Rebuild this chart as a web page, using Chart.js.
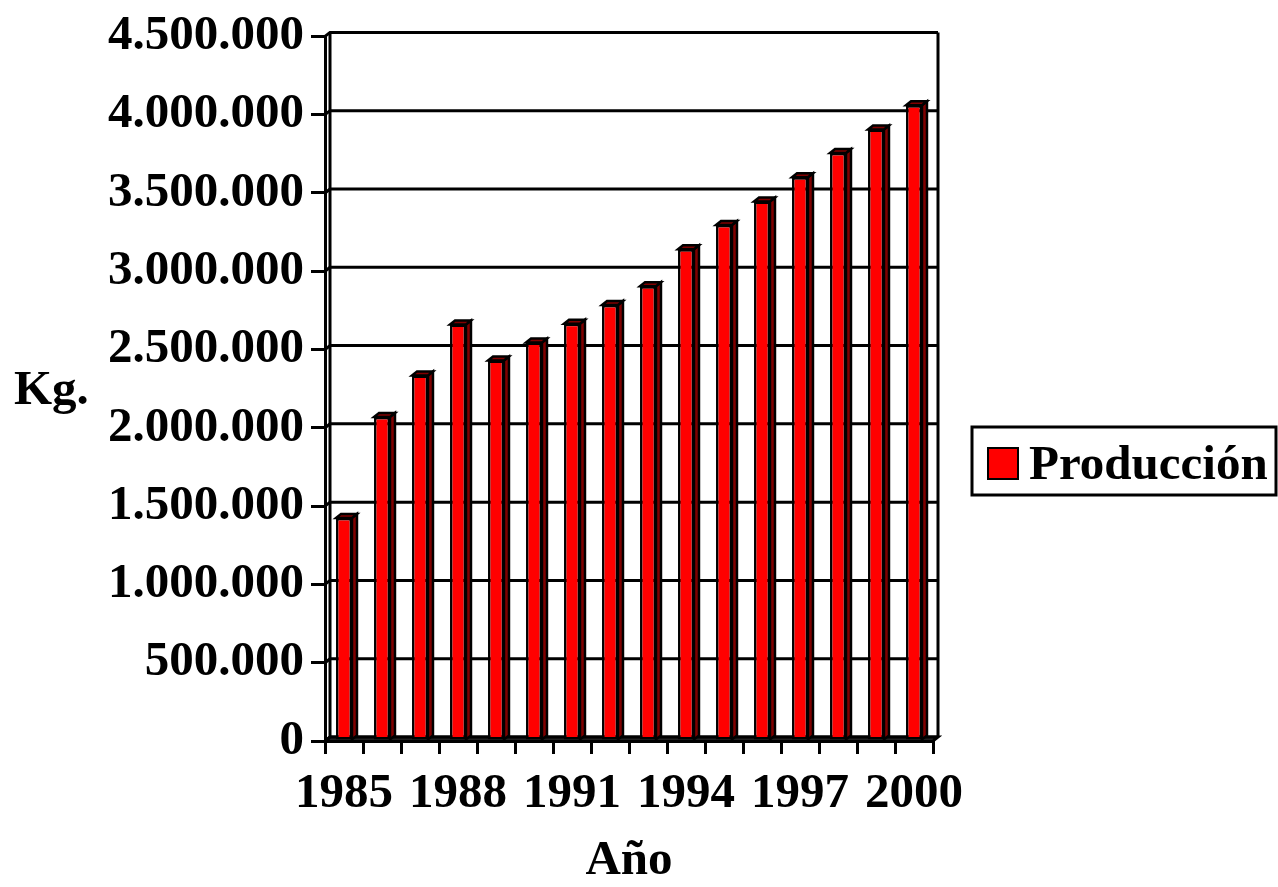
<!DOCTYPE html>
<html>
<head>
<meta charset="utf-8">
<script src="https://cdn.jsdelivr.net/npm/chart.js@4/dist/chart.umd.min.js"></script>
<style>
  body { margin: 0; background: #fff; }
  #wrap { width: 1278px; height: 887px; position: relative; }
</style>
</head>
<body>
<div id="wrap"><canvas id="myChart"></canvas></div>
<script>
// Chart data
const years = ['1985', '1986', '1987', '1988', '1989', '1990', '1991', '1992',
               '1993', '1994', '1995', '1996', '1997', '1998', '1999', '2000'];
const produccion = [1425000, 2070000, 2335000, 2660000, 2430000, 2545000, 2665000, 2785000,
                    2905000, 3140000, 3295000, 3445000, 3600000, 3755000, 3905000, 4060000];
const seriesName = 'Producción';
const yTitle = 'Kg.';
const xTitle = 'Año';

const FONT = '"Liberation Serif", "Times New Roman", serif';
const depthX = 5;
const depthY = 4;

// number format 4.500.000
const fmt = (v) => String(v).replace(/\B(?=(\d{3})+(?!\d))/g, '.');

// 3D look: floor, back wall grid, bar sides, legend and y title
const frame3d = {
    id: 'frame3d',
    beforeDatasetsDraw(chart) {
        const { ctx, chartArea: a, scales: { y } } = chart;
        ctx.save();
        ctx.strokeStyle = '#000';
        ctx.lineWidth = 3;

        // floor
        ctx.fillStyle = '#404040';
        ctx.beginPath();
        ctx.moveTo(a.left, a.bottom);
        ctx.lineTo(a.right, a.bottom);
        ctx.lineTo(a.right + depthX, a.bottom - depthY);
        ctx.lineTo(a.left + depthX, a.bottom - depthY);
        ctx.closePath();
        ctx.fill();
        ctx.stroke();

        // grid lines on the back wall
        y.ticks.forEach(t => {
            const py = y.getPixelForValue(t.value);
            ctx.beginPath();
            ctx.moveTo(a.left, py);
            ctx.lineTo(a.left + depthX, py - depthY);
            ctx.lineTo(a.right + depthX, py - depthY);
            ctx.stroke();
        });

        // back wall edges
        ctx.beginPath();
        ctx.moveTo(a.left + depthX, a.top - depthY);
        ctx.lineTo(a.left + depthX, a.bottom - depthY);
        ctx.moveTo(a.right + depthX, a.top - depthY);
        ctx.lineTo(a.right + depthX, a.bottom - depthY);
        ctx.stroke();
        ctx.restore();
    },
    afterDatasetsDraw(chart) {
        const { ctx } = chart;
        const meta = chart.getDatasetMeta(0);
        ctx.save();
        ctx.strokeStyle = '#000';
        ctx.lineWidth = 2.5;
        ctx.fillStyle = '#800000';
        meta.data.forEach(bar => {
            const p = bar.getProps(['x', 'y', 'width', 'base'], true);
            const l = p.x - p.width / 2;
            const r = p.x + p.width / 2;
            // side
            ctx.beginPath();
            ctx.moveTo(r, p.y);
            ctx.lineTo(r + depthX, p.y - depthY);
            ctx.lineTo(r + depthX, p.base - depthY);
            ctx.lineTo(r, p.base);
            ctx.closePath();
            ctx.fill();
            ctx.stroke();
            // top
            ctx.beginPath();
            ctx.moveTo(l, p.y);
            ctx.lineTo(l + depthX, p.y - depthY);
            ctx.lineTo(r + depthX, p.y - depthY);
            ctx.lineTo(r, p.y);
            ctx.closePath();
            ctx.fill();
            ctx.stroke();
        });
        ctx.restore();
    },
    afterDraw(chart) {
        const { ctx } = chart;
        const ds = chart.data.datasets[0];
        ctx.save();
        ctx.font = 'bold 49px ' + FONT;
        ctx.fillStyle = '#000';
        ctx.textBaseline = 'alphabetic';

        // y title, horizontal
        ctx.fillText(yTitle, 14, 404);

        // legend
        ctx.strokeStyle = '#000';
        ctx.lineWidth = 3;
        ctx.strokeRect(972, 427, 304, 68);
        ctx.fillStyle = ds.backgroundColor;
        ctx.fillRect(988, 448, 30, 31);
        ctx.lineWidth = 2;
        ctx.strokeRect(988, 448, 30, 31);
        ctx.fillStyle = '#000';
        ctx.fillText(ds.label, 1029, 479);
        ctx.restore();
    }
};

const ctx = document.getElementById('myChart').getContext('2d');
let myChart = new Chart(ctx, {
    type: 'bar',
    data: {
        labels: years,
        datasets: [
            {
                label: seriesName,
                data: produccion,
                backgroundColor: '#ff0000',
                borderColor: '#000',
                borderWidth: 2.5,
                borderSkipped: false,
                barPercentage: 0.42,
                categoryPercentage: 1,
            },
        ],
    },
    options: {
        responsive: true,
        maintainAspectRatio: false,
        animation: false,
        layout: { padding: { left: 0, right: 345, top: 35, bottom: 0 } },
        plugins: {
            legend: { display: false },
            tooltip: { enabled: false },
        },
        scales: {
            x: {
                afterFit: (scale) => { scale.height = 146; },
                grid: {
                    drawOnChartArea: false,
                    drawTicks: true,
                    tickLength: 13,
                    color: '#000',
                    lineWidth: 3,
                },
                border: { display: true, color: '#000', width: 3 },
                ticks: {
                    autoSkip: false,
                    maxRotation: 0,
                    padding: 11,
                    color: '#000',
                    font: { family: FONT, size: 49, weight: 'bold' },
                    callback: function (val, i) {
                        return i % 3 === 0 ? this.getLabelForValue(val) : '';
                    },
                },
                title: {
                    display: true,
                    text: xTitle,
                    color: '#000',
                    font: { family: FONT, size: 49, weight: 'bold' },
                    padding: { top: 0, bottom: -4 },
                },
            },
            y: {
                min: 0,
                max: 4500000,
                afterFit: (scale) => { scale.width = 325; },
                grid: {
                    drawOnChartArea: false,
                    drawTicks: true,
                    tickLength: 14,
                    color: '#000',
                    lineWidth: 3,
                },
                border: { display: true, color: '#000', width: 3 },
                ticks: {
                    stepSize: 500000,
                    padding: 7,
                    color: '#000',
                    font: { family: FONT, size: 49, weight: 'bold' },
                    callback: (v) => fmt(v),
                },
            },
        },
    },
    plugins: [frame3d],
});
</script>
</body>
</html>
